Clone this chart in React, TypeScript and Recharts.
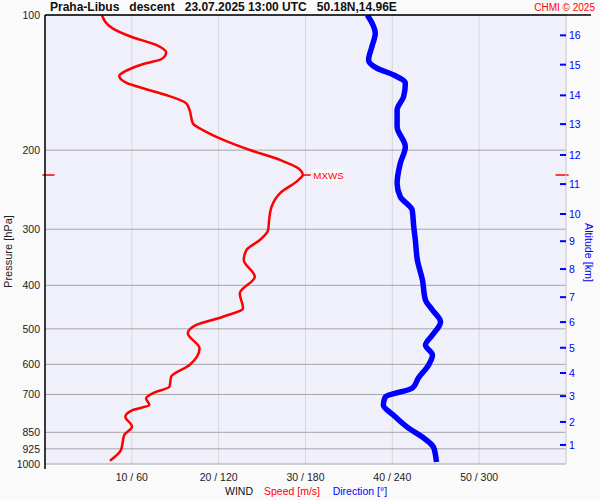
import React from 'react';
import { ScatterChart, Scatter, XAxis, YAxis, CartesianGrid, ReferenceLine, ReferenceDot } from 'recharts';

// Wind speed profile (m/s) vs pressure (hPa)
const speedPressure = [100, 107.1, 111.8, 116.6, 121.3, 125.5, 128.1, 132.1, 136.8, 141.5, 146.3, 150.7, 157.3, 162.8, 174.3, 180.4, 188.2, 199.8, 210.3, 219.5, 227.2, 233.1, 249.5, 267.3, 286.2, 301.2, 317.1, 333.8, 351.4, 382.7, 416.8, 450.1, 469.9, 490.2, 511.7, 552.6, 602, 639.1, 672.7, 695.8, 714, 739, 758.2, 784.7, 825.9, 861.8, 930.7, 983.3];
const speedValues = [6.55, 7.78, 9.92, 12.8, 13.95, 13.37, 11.64, 9.71, 8.55, 9.33, 11.64, 13.95, 16.27, 16.65, 17.03, 18.18, 20.12, 23.6, 27.05, 29.17, 29.68, 29.17, 27.05, 26.09, 25.81, 25.7, 24.74, 23.2, 22.89, 24.16, 22.43, 22.81, 20.5, 17.42, 16.45, 17.8, 16.65, 14.53, 14.34, 12.41, 11.64, 12.02, 10.09, 9.25, 10.02, 9.13, 8.75, 7.48];

// Wind direction profile (deg) vs pressure (hPa)
const dirPressure = [100, 109.8, 117.6, 125.9, 131.4, 136, 141.9, 152, 162.8, 177.4, 196.5, 213.9, 237.1, 254, 271.9, 296.2, 317.1, 351.4, 389.3, 431.3, 453.9, 482.7, 516.1, 543.3, 571.8, 602, 643.5, 677.2, 709.3, 739, 778, 831.6, 871, 916.6, 955, 989.7];
const dirValues = [222.7, 228.2, 225.9, 223.6, 229.4, 240.9, 249.0, 247.8, 243.3, 243.3, 249, 245.5, 243.3, 245.5, 253.7, 254.8, 255.9, 257.3, 260.8, 262.9, 267.7, 273.3, 267.7, 262.9, 267.7, 265, 258, 253.9, 235.1, 233.8, 240.7, 251.1, 260.8, 268.4, 269.8, 270.5];

const pressureTicks = [100, 200, 300, 400, 500, 600, 700, 850, 925, 1000];
const speedTicks = [10, 20, 30, 40, 50];
const altitudeKm = [1, 2, 3, 4, 5, 6, 7, 8, 9, 10, 11, 12, 13, 14, 15, 16];
const altitudePressure = [907, 806, 706, 627, 551, 483, 425, 368, 319, 277.5, 238, 205, 175, 151, 129, 111];
const maxWind = { p: 227.2, s: 29.68, label: 'MXWS' };

const speedData = speedPressure.map((p, i) => ({ p, s: speedValues[i] }));
const dirData = dirPressure.map((p, i) => ({ p, d: dirValues[i] }));

const FONT = '"Liberation Sans", Arial, sans-serif';
const RED = '#ff0000';
const BLUE = '#0000ff';

const AltTick = (props: any) => {
  const { x, y, payload } = props;
  const i = altitudePressure.indexOf(payload.value);
  return (
    <g>
      <line x1={x - 6} x2={x} y1={y} y2={y} stroke={BLUE} strokeWidth={2} />
      <text x={x + 3} y={y} dy={4} fill={BLUE} fontSize={10.5} fontFamily={FONT}>
        {altitudeKm[i]}
      </text>
    </g>
  );
};

const MxwsMarker = (props: any) => {
  const { cx, cy } = props;
  return (
    <g>
      <line x1={cx} x2={cx + 8} y1={cy} y2={cy} stroke={RED} strokeWidth={1.5} />
      <rect x={cx + 10} y={cy - 6} width={31} height={12} fill="#fafafa" />
      <text x={cx + 10.5} y={cy} dy={3.5} fill={RED} fontSize={9.8} fontFamily={FONT}>
        {maxWind.label}
      </text>
    </g>
  );
};

const noShape = () => <g />;

export default function App() {
  return (
    <div style={{ position: 'absolute', left: 0, top: 0, width: 600, height: 500, background: '#fafafa', fontFamily: FONT }}>
      <ScatterChart width={600} height={500} margin={{ top: 15, right: 0, bottom: 0, left: 0 }}>
        <CartesianGrid xAxisId="s" yAxisId="p" horizontal={false} vertical stroke="#d6d6de" fill="#f0f0fb" fillOpacity={1} />
        <CartesianGrid xAxisId="s" yAxisId="p" horizontal vertical={false} stroke="#a4a4a8" />
        <XAxis xAxisId="d" dataKey="d" type="number" domain={[0, 360]} hide orientation="top" height={0} allowDataOverflow />
        <XAxis
          xAxisId="s"
          dataKey="s"
          type="number"
          domain={[0, 60]}
          ticks={speedTicks}
          tickFormatter={(v: number) => `${v} / ${v * 6}`}
          axisLine={false}
          tickLine={false}
          height={36}
          tick={{ fontSize: 10.5, fill: '#222', fontFamily: FONT }}
          tickMargin={4}
          interval={0}
          allowDataOverflow
        />
        <YAxis
          yAxisId="p"
          dataKey="p"
          type="number"
          scale="log"
          domain={[100, 1000]}
          reversed
          ticks={pressureTicks}
          interval={0}
          allowDataOverflow
          width={45}
          axisLine={false}
          tickLine={false}
          tickSize={4}
          tickMargin={1}
          tick={{ fontSize: 10.5, fill: '#222', fontFamily: FONT }}
        />
        <YAxis
          yAxisId="a"
          orientation="right"
          dataKey="p"
          type="number"
          scale="log"
          domain={[100, 1000]}
          reversed
          ticks={altitudePressure}
          interval={0}
          allowDataOverflow
          width={34}
          axisLine={{ stroke: '#d4d4d8' }}
          tickLine={false}
          tickSize={0}
          tickMargin={0}
          tick={AltTick}
        />
        <Scatter
          data={dirData}
          xAxisId="d"
          yAxisId="a"
          line={{ stroke: BLUE, strokeWidth: 5.5 }}
          lineType="joint"
          lineJointType="monotoneY"
          shape={noShape}
          fill={BLUE}
          isAnimationActive={false}
        />
        <Scatter
          data={speedData}
          xAxisId="s"
          yAxisId="p"
          line={{ stroke: RED, strokeWidth: 2.5 }}
          lineType="joint"
          lineJointType="monotoneY"
          shape={noShape}
          fill={RED}
          isAnimationActive={false}
        />
        <ReferenceLine
          xAxisId="s"
          yAxisId="p"
          segment={[{ x: -0.3, y: maxWind.p }, { x: 1.1, y: maxWind.p }]}
          stroke={RED}
          strokeWidth={1.5}
          ifOverflow="visible"
        />
        <ReferenceLine
          xAxisId="s"
          yAxisId="p"
          segment={[{ x: 58.8, y: maxWind.p }, { x: 60.3, y: maxWind.p }]}
          stroke={RED}
          strokeWidth={1.5}
          ifOverflow="visible"
        />
        <ReferenceDot
          xAxisId="s"
          yAxisId="p"
          x={maxWind.s}
          y={maxWind.p}
          shape={MxwsMarker}
          ifOverflow="visible"
        />
      </ScatterChart>
      <svg width={600} height={500} style={{ position: 'absolute', left: 0, top: 0, pointerEvents: 'none' }}>
        <line x1={45} x2={591} y1={15} y2={15} stroke="#000" strokeWidth={1.5} />
        <line x1={45} x2={45} y1={15} y2={469} stroke="#000" strokeWidth={1.5} />
        <text x={50} y={11} fontSize={12} fontWeight="bold" fill="#111" fontFamily={FONT} style={{ whiteSpace: 'pre' }} xmlSpace="preserve">
          {'Praha-Libus   descent   23.07.2025 13:00 UTC   50.18N,14.96E'}
        </text>
        <text x={595} y={11} fontSize={10} fill={RED} fontFamily={FONT} textAnchor="end">
          CHMI © 2025
        </text>
        <text x={12} y={251.5} fontSize={11} fill="#222" fontFamily={FONT} textAnchor="middle" transform="rotate(-90 12 251.5)">
          Pressure [hPa]
        </text>
        <text x={585} y={252.5} fontSize={10.7} fill={BLUE} fontFamily={FONT} textAnchor="middle" transform="rotate(90 585 252.5)">
          Altitude [km]
        </text>
        <text x={225} y={495} fontSize={10.5} fill="#111" fontFamily={FONT}>WIND</text>
        <text x={264} y={495} fontSize={10.5} fill={RED} fontFamily={FONT}>Speed [m/s]</text>
        <text x={332.7} y={495} fontSize={10.5} fill={BLUE} fontFamily={FONT}>Direction [°]</text>
      </svg>
    </div>
  );
}
